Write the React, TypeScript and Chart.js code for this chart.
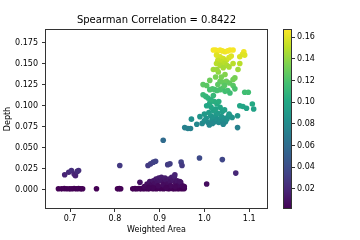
import { useEffect, useRef } from "react";
import { Chart, registerables } from "chart.js";
Chart.register(...registerables);

const titleText = "Spearman Correlation = 0.8422";
const xLabel = "Weighted Area";
const yLabel = "Depth";

const weightedArea = [
  // bottom row
  0.674, 0.681, 0.687, 0.693, 0.699, 0.704, 0.709, 0.714, 0.719, 0.724, 0.728, 0.759, 0.806, 0.810, 0.813,
  0.840, 0.845, 0.849, 0.853, 0.857, 0.861, 0.865, 0.869, 0.873, 0.877, 0.881, 0.885, 0.889, 0.893, 0.897,
  0.901, 0.905, 0.909, 0.913, 0.917, 0.921, 0.925, 0.929, 0.933, 0.937, 0.941, 0.945, 0.950, 0.955,
  // low purple cluster
  0.856, 0.866, 0.872, 0.878, 0.882, 0.886, 0.889, 0.892, 0.895, 0.898, 0.901, 0.904, 0.907, 0.910, 0.912,
  0.915, 0.918, 0.921, 0.924, 0.927, 0.930, 0.933, 0.936, 0.939, 0.943, 0.947, 0.951, 0.955, 0.897, 0.908,
  0.925, 0.935, 0.915, 0.885, 0.875, 0.934, 0.945,
  // elevated purple
  0.688, 0.697, 0.703, 0.709, 0.712, 0.716, 0.719, 0.811, 0.874, 0.880, 0.886, 0.891, 0.908, 0.918, 0.923,
  0.948, 0.950, 0.989, 1.040, 1.070, 1.005,
  // teal base
  0.956, 0.963, 0.969, 0.971, 0.983, 0.990, 0.995, 1.000, 1.004, 1.008, 1.011, 1.014, 1.017, 1.020, 1.023,
  1.026, 1.029, 1.032, 1.035, 1.038, 1.041, 1.044, 1.047, 1.050, 1.053, 1.057, 1.062, 1.074, 1.074, 1.000,
  1.010, 1.020, 1.030, 1.040, 1.025, 1.015, 1.035, 1.028, 1.022, 1.032, 1.012, 1.005, 1.045, 1.055, 1.018,
  1.042, 1.079, 1.086, 1.094, 1.107, 1.110,
  // green
  0.997, 1.005, 0.997, 1.003, 1.008, 1.012, 1.012, 1.018, 1.023, 1.028, 1.035, 1.041, 1.046, 1.052, 1.057,
  1.020, 1.015, 1.035, 1.040, 1.049, 1.056, 1.064, 1.068, 1.064, 1.068, 1.090, 1.098, 1.046, 1.038, 1.031,
  1.025, 1.030, 1.045,
  // yellow
  1.020, 1.025, 1.030, 1.035, 1.040, 1.046, 1.052, 1.057, 1.064, 1.088, 1.085, 1.079, 1.090, 1.027, 1.035,
  1.042, 1.049, 1.055, 1.060, 1.030, 1.038, 1.045, 1.027, 1.035, 1.050, 1.064, 1.079, 1.075, 1.020, 1.028,
  1.042, 1.055,
];

const depth = [
  // bottom row
  0.0015, 0.0013, 0.0016, 0.0014, 0.0013, 0.0015, 0.0017, 0.0014, 0.0016, 0.0013, 0.0015, 0.0014, 0.0013, 0.0016, 0.0015,
  0.0013, 0.0016, 0.0014, 0.0018, 0.0013, 0.0017, 0.0015, 0.0019, 0.0014, 0.0016, 0.0021, 0.0015, 0.0018, 0.0014, 0.0022,
  0.0016, 0.0019, 0.0014, 0.0021, 0.0017, 0.0015, 0.0020, 0.0016, 0.0014, 0.0019, 0.0015, 0.0017, 0.0014, 0.0016,
  // low purple cluster
  0.009, 0.004, 0.007, 0.010, 0.006, 0.011, 0.008, 0.013, 0.010, 0.014, 0.011, 0.015, 0.012, 0.009, 0.014,
  0.011, 0.007, 0.013, 0.010, 0.015, 0.012, 0.016, 0.008, 0.011, 0.006, 0.009, 0.005, 0.004, 0.005, 0.006,
  0.005, 0.004, 0.003, 0.003, 0.003, 0.018, 0.010,
  // elevated purple
  0.018, 0.021, 0.023, 0.019, 0.017, 0.022, 0.023, 0.029, 0.029, 0.031, 0.033, 0.034, 0.059, 0.030, 0.031,
  0.033, 0.029, 0.038, 0.036, 0.020, 0.007,
  // teal base
  0.074, 0.073, 0.073, 0.084, 0.078, 0.087, 0.079, 0.082, 0.085, 0.080, 0.077, 0.088, 0.083, 0.086, 0.081,
  0.089, 0.084, 0.080, 0.083, 0.087, 0.082, 0.085, 0.081, 0.084, 0.087, 0.088, 0.086, 0.088, 0.074, 0.090,
  0.092, 0.094, 0.091, 0.093, 0.096, 0.098, 0.098, 0.102, 0.105, 0.105, 0.103, 0.100, 0.095, 0.090, 0.079,
  0.078, 0.100, 0.099, 0.097, 0.102, 0.096,
  // green
  0.125, 0.124, 0.113, 0.111, 0.109, 0.130, 0.119, 0.120, 0.119, 0.118, 0.119, 0.121, 0.117, 0.118, 0.115,
  0.112, 0.107, 0.129, 0.128, 0.129, 0.127, 0.131, 0.133, 0.124, 0.120, 0.116, 0.116, 0.137, 0.134, 0.140,
  0.134, 0.125, 0.124,
  // yellow
  0.166, 0.166, 0.165, 0.166, 0.165, 0.164, 0.165, 0.166, 0.166, 0.164, 0.161, 0.158, 0.160, 0.160, 0.158,
  0.156, 0.154, 0.157, 0.159, 0.154, 0.152, 0.150, 0.150, 0.148, 0.148, 0.150, 0.150, 0.143, 0.143, 0.143,
  0.145, 0.146,
];

const xTicks = [0.7, 0.8, 0.9, 1.0, 1.1];
const yTicks = [0, 0.025, 0.05, 0.075, 0.1, 0.125, 0.15, 0.175];
const cbTicks = [0.02, 0.04, 0.06, 0.08, 0.1, 0.12, 0.14, 0.16];
const xMin = 0.644;
const xMax = 1.142;
const yMin = -0.0226;
const yMax = 0.191;
const cbMin = 0.0012;
const cbMax = 0.1677;

const VIRIDIS = [
  [68, 1, 84], [72, 36, 117], [65, 68, 135], [53, 95, 141], [42, 120, 142], [33, 145, 140],
  [34, 168, 132], [68, 191, 112], [122, 209, 81], [189, 223, 38], [253, 231, 37],
];
function viridis(t: number): string {
  const c = Math.max(0, Math.min(1, t)) * (VIRIDIS.length - 1);
  const i = Math.min(Math.floor(c), VIRIDIS.length - 2);
  const f = c - i;
  const a = VIRIDIS[i], b = VIRIDIS[i + 1];
  const m = (k: number) => Math.round(a[k] + (b[k] - a[k]) * f);
  return `rgb(${m(0)},${m(1)},${m(2)})`;
}
const norm = (v: number) => (v - cbMin) / (cbMax - cbMin);

const FONT = "'DejaVu Sans', sans-serif";

const framePlugin = {
  id: "frame",
  afterDatasetsDraw(chart: any) {
    const { ctx, chartArea } = chart;
    ctx.save();
    ctx.strokeStyle = "#333";
    ctx.lineWidth = 1;
    ctx.strokeRect(
      Math.round(chartArea.left) + 0.5,
      Math.round(chartArea.top) + 0.5,
      Math.round(chartArea.right - chartArea.left) - 1,
      Math.round(chartArea.bottom - chartArea.top) - 1
    );
    ctx.restore();
  },
};

export default function App() {
  const mainRef = useRef<HTMLCanvasElement>(null);
  const cbRef = useRef<HTMLCanvasElement>(null);

  useEffect(() => {
    document.body.style.margin = "0";
    const points = weightedArea.map((x, i) => ({ x, y: depth[i] }));
    const tickGrid = { drawOnChartArea: false, drawTicks: true, tickLength: 3, color: "#333" };

    const main = new Chart(mainRef.current!, {
      type: "scatter",
      data: {
        datasets: [
          {
            data: points,
            pointRadius: 2.8,
            pointBorderWidth: 0,
            pointBackgroundColor: (c: any) => viridis(norm(c.raw ? c.raw.y : 0)),
          },
        ],
      },
      options: {
        animation: false,
        responsive: false,
        devicePixelRatio: 1,
        layout: { padding: { left: 0, right: 7, top: 0, bottom: 0 } },
        plugins: {
          legend: { display: false },
          tooltip: { enabled: false },
          title: {
            display: true,
            text: titleText,
            fullSize: false,
            color: "#000",
            font: { family: FONT, size: 10, weight: "normal" },
            padding: { top: 14, bottom: 3 },
          },
        },
        scales: {
          x: {
            type: "linear",
            min: xMin,
            max: xMax,
            afterBuildTicks: (s: any) => { s.ticks = xTicks.map((v) => ({ value: v })); },
            afterFit: (s: any) => { s.height = 31; },
            grid: tickGrid,
            border: { display: false },
            ticks: {
              color: "#000",
              font: { family: FONT, size: 8 },
              padding: 2,
              maxRotation: 0,
              callback: (v: any) => Number(v).toFixed(1),
            },
            title: {
              display: true,
              text: xLabel,
              color: "#000",
              font: { family: FONT, size: 8 },
              padding: { top: 0, bottom: 5 },
            },
          },
          y: {
            type: "linear",
            min: yMin,
            max: yMax,
            afterBuildTicks: (s: any) => { s.ticks = yTicks.map((v) => ({ value: v })); },
            afterFit: (s: any) => { s.width = 45; },
            grid: tickGrid,
            border: { display: false },
            ticks: {
              color: "#000",
              font: { family: FONT, size: 8 },
              padding: 4,
              callback: (v: any) => Number(v).toFixed(3),
            },
            title: {
              display: true,
              text: yLabel,
              color: "#000",
              font: { family: FONT, size: 8 },
              padding: { top: 3, bottom: 0 },
            },
          },
        },
      },
      plugins: [framePlugin],
    } as any);

    const cb = new Chart(cbRef.current!, {
      type: "bar",
      data: {
        labels: ["depth"],
        datasets: [
          {
            data: [[cbMin, cbMax]],
            borderWidth: 0,
            barPercentage: 1,
            categoryPercentage: 1,
            backgroundColor: (c: any) => {
              const chart = c.chart;
              if (!chart.chartArea) return viridis(0.5);
              const ys = chart.scales.y;
              const g = chart.ctx.createLinearGradient(0, ys.getPixelForValue(cbMin), 0, ys.getPixelForValue(cbMax));
              for (let i = 0; i <= 20; i++) g.addColorStop(i / 20, viridis(i / 20));
              return g;
            },
          },
        ],
      },
      options: {
        animation: false,
        responsive: false,
        devicePixelRatio: 1,
        layout: { padding: { left: 8, right: 0, top: 29, bottom: 31 } },
        plugins: { legend: { display: false }, tooltip: { enabled: false } },
        scales: {
          x: { display: false },
          y: {
            type: "linear",
            position: "right",
            min: cbMin,
            max: cbMax,
            afterBuildTicks: (s: any) => { s.ticks = cbTicks.map((v) => ({ value: v })); },
            afterFit: (s: any) => { s.width = 68; },
            grid: tickGrid,
            border: { display: false },
            ticks: {
              color: "#000",
              font: { family: FONT, size: 8 },
              padding: 2,
              callback: (v: any) => Number(v).toFixed(2),
            },
          },
        },
      },
      plugins: [framePlugin],
    } as any);

    return () => {
      main.destroy();
      cb.destroy();
    };
  }, []);

  return (
    <div style={{ position: "relative", width: 360, height: 240, background: "#fff" }}>
      <canvas ref={mainRef} width={275} height={240} style={{ position: "absolute", left: 0, top: 0 }} />
      <canvas ref={cbRef} width={85} height={240} style={{ position: "absolute", left: 275, top: 0 }} />
    </div>
  );
}
